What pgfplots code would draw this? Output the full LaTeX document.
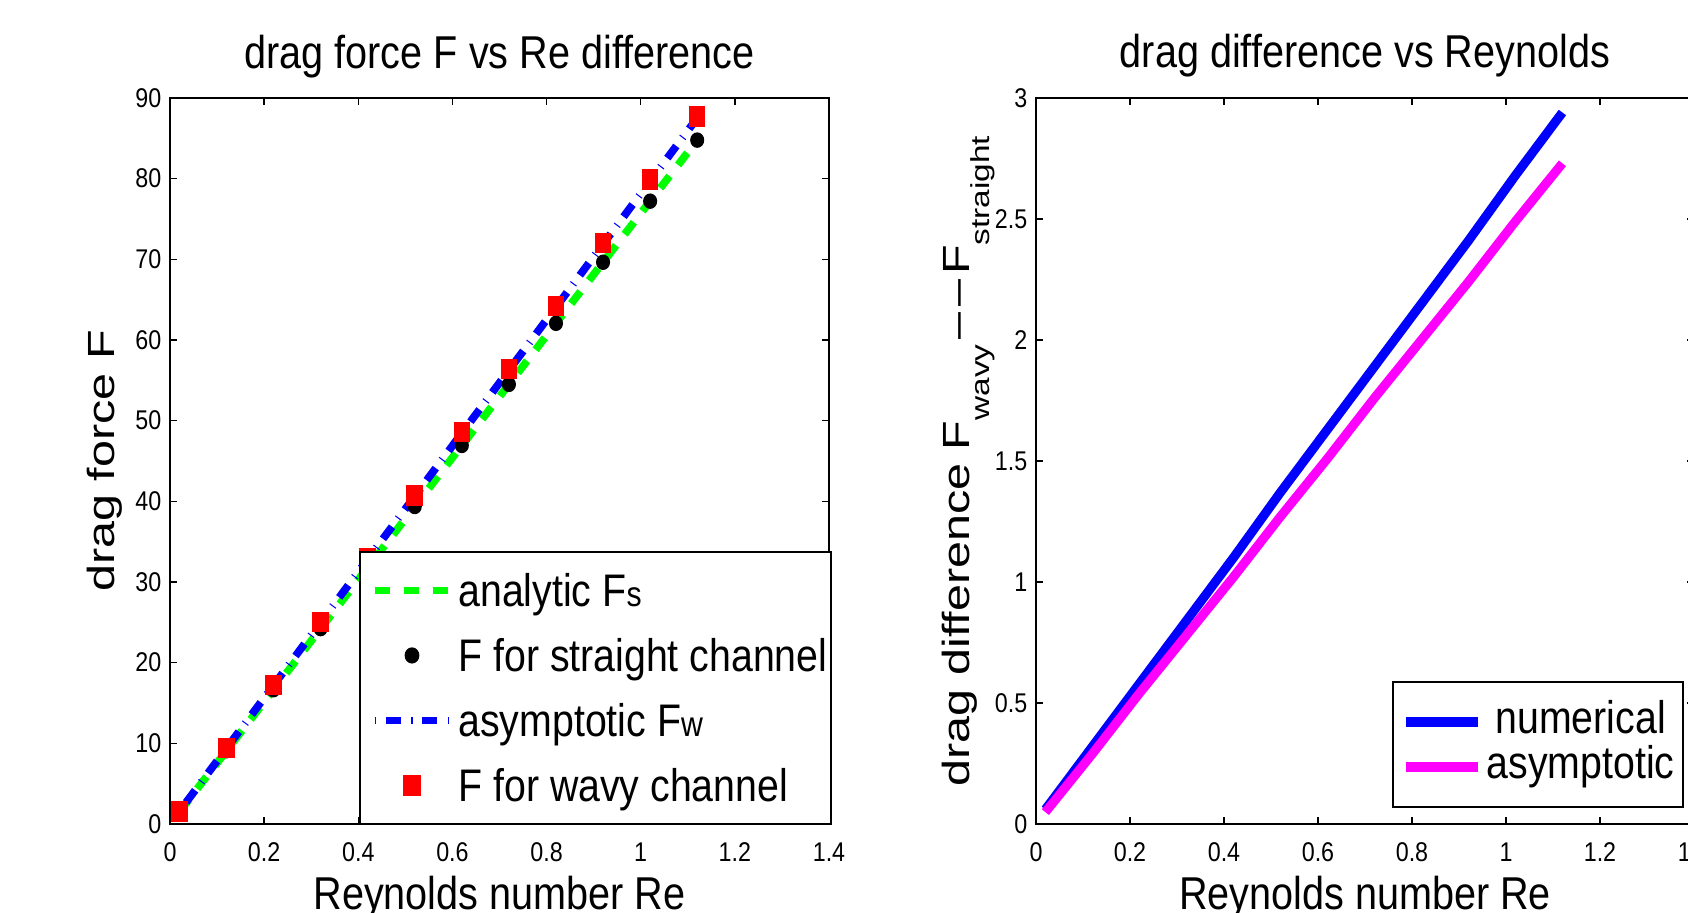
\documentclass[border=0pt]{standalone}
\usepackage{fontspec}
\setmainfont{Liberation Sans}[FakeStretch=0.86]
\newfontfamily\ylabfont{Liberation Sans}
\usepackage{graphicx}
\usepackage{pgfplots}
\pgfplotsset{compat=1.18}
\definecolor{pmag}{RGB}{255,0,255}
\definecolor{pgreen}{RGB}{0,255,0}
\definecolor{pblue}{RGB}{0,0,255}
\definecolor{pred}{RGB}{255,0,0}

\pgfplotsset{
 myaxis/.style={
  scale only axis,
  width=6.59cm, height=7.26cm,
  xmin=0, xmax=1.4,
  xtick={0,0.2,0.4,0.6,0.8,1,1.2,1.4},
  axis line style={line width=0.6pt},
  major tick style={line width=0.4pt, black},
  major tick length=0.07cm,
  tick align=inside,
  /pgf/number format/assume math mode=true,
  tick label style={font=\fontsize{7.7}{8}\selectfont, inner sep=0pt},
  xticklabel style={yshift=-0.18cm},
  yticklabel style={xshift=-0.08cm},
  every axis title/.style={at={(axis description cs:0.5,1)}, anchor=base, yshift=0.30cm,
    font=\fontsize{13.1}{14}\selectfont, inner sep=0pt},
  xlabel style={at={(axis description cs:0.5,0)}, anchor=base, yshift=-0.86cm,
    font=\fontsize{13.1}{14}\selectfont, inner sep=0pt},
  ylabel style={anchor=base, inner sep=0pt},
 }
}

\begin{document}
\begin{tikzpicture}
\useasboundingbox (0,0) rectangle (16.88cm,9.13cm);
\clip (0,0) rectangle (16.88cm,9.13cm);

% ---------------- left axis ----------------
\begin{axis}[myaxis,
  at={(1.70cm,0.89cm)}, anchor=south west,
  ymin=0, ymax=90,
  ytick={0,10,20,30,40,50,60,70,80,90},
  title={drag force F vs Re difference},
  xlabel={Reynolds number Re},
  ylabel={\scalebox{1}[0.78]{\ylabfont\fontsize{13.8}{15}\selectfont drag force F}},
  ylabel style={at={(axis description cs:-0.0835,0.5)}},
  legend image code/.code={\path (0cm,0cm) (0.825cm,0cm);\draw[mark repeat=2,mark phase=2,#1] plot coordinates {(0.075cm,0cm) (0.45cm,0cm) (0.825cm,0cm)};},
  legend cell align=left,
  legend style={at={(axis description cs:1.0046,-0.0014)}, anchor=south east,
    draw=black, line width=0.6pt, inner xsep=0.035cm, inner ysep=0.06cm,
    row sep=0pt, column sep=0.05cm, font=\fontsize{13}{14}\selectfont,
    nodes={inner xsep=0pt, inner ysep=0pt, text height=0.49cm, text depth=0.16cm}},
]
\addplot[pgreen, line width=2.2pt, dash pattern=on 4.3pt off 4pt] coordinates {
(0.02,1.51) (0.12,9.08) (0.22,16.65) (0.32,24.22) (0.42,31.79) (0.52,39.36)
(0.62,46.93) (0.72,54.50) (0.82,62.07) (0.92,69.64) (1.02,77.21) (1.12,84.78)};
\addlegendentry{analytic F{\fontsize{10}{10}\selectfont s}}

\addplot[only marks, black, mark=*, mark size=2pt, mark options={xscale=0.9}] coordinates {
(0.02,1.51) (0.12,9.08) (0.22,16.65) (0.32,24.22) (0.42,31.79) (0.52,39.36)
(0.62,46.93) (0.72,54.50) (0.82,62.07) (0.92,69.64) (1.02,77.21) (1.12,84.78)};
\addlegendentry{F for straight channel}

\addplot[pblue, line width=2.2pt, dash pattern=on 0.3pt off 2.9pt on 4.3pt off 2.9pt] coordinates {
(0.02,1.56) (0.12,9.38) (0.22,17.19) (0.32,25.00) (0.42,32.82) (0.52,40.63)
(0.62,48.45) (0.72,56.26) (0.82,64.07) (0.92,71.89) (1.02,79.70) (1.12,87.52)};
\addlegendentry{asymptotic F{\fontsize{10}{10}\selectfont w}}

\addplot[only marks, pred, mark=square*, mark size=2.7pt, mark options={xscale=0.8}] coordinates {
(0.02,1.57) (0.12,9.40) (0.22,17.23) (0.32,25.06) (0.42,32.89) (0.52,40.73)
(0.62,48.56) (0.72,56.39) (0.82,64.22) (0.92,72.05) (1.02,79.89) (1.12,87.72)};
\addlegendentry{F for wavy channel}
\end{axis}

% ---------------- right axis ----------------
\begin{axis}[myaxis,
  at={(10.36cm,0.89cm)}, anchor=south west,
  width=6.58cm,
  ymin=0, ymax=3,
  ytick={0,0.5,1,1.5,2,2.5,3},
  title={drag difference vs Reynolds},
  xlabel={Reynolds number Re},
  ylabel={\scalebox{1}[0.78]{\ylabfont\fontsize{13.8}{15}\selectfont drag difference F\raisebox{-7.6pt}{\fontsize{9.5}{10}\selectfont wavy}\hspace{0.1em}–\hspace{0.12em}–\hspace{0.1em}F\raisebox{-7.6pt}{\fontsize{9.5}{10}\selectfont straight}}},
  ylabel style={at={(axis description cs:-0.1018,0.5)}},
  legend image code/.code={\draw[#1] (0cm,0cm) -- (0.72cm,0cm);},
  legend cell align=center,
  legend style={at={(axis description cs:0.985,0.022)}, anchor=south east,
    draw=black, line width=0.6pt, inner xsep=0.085cm, inner ysep=0.175cm,
    row sep=0pt, column sep=0.04cm, font=\fontsize{13}{14}\selectfont,
    nodes={inner xsep=0pt, inner ysep=0pt, text height=0.345cm, text depth=0.105cm}},
]
\addplot[pblue, line width=2.6pt] coordinates {
(0.02,0.06) (0.12,0.32) (0.22,0.58) (0.32,0.84) (0.42,1.10) (0.52,1.37)
(0.62,1.63) (0.72,1.89) (0.82,2.15) (0.92,2.41) (1.02,2.68) (1.12,2.94)};
\addlegendentry{numerical}
\addplot[pmag, line width=2.6pt] coordinates {
(0.02,0.049) (0.12,0.29) (0.22,0.54) (0.32,0.78) (0.42,1.02) (0.52,1.27)
(0.62,1.51) (0.72,1.76) (0.82,2.00) (0.92,2.24) (1.02,2.49) (1.12,2.73)};
\addlegendentry{asymptotic}
\end{axis}
\end{tikzpicture}
\end{document}
